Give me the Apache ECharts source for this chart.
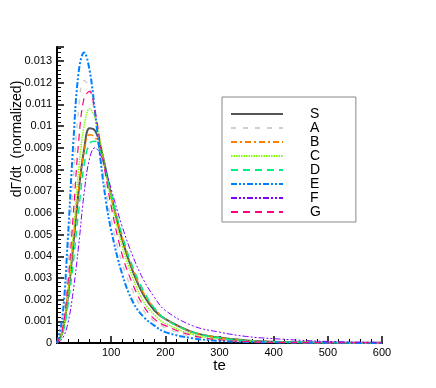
<!DOCTYPE html>
<html>
<head>
<meta charset="utf-8">
<script src="https://cdn.jsdelivr.net/npm/echarts@6/dist/echarts.min.js"></script>
<style>
  html, body { margin: 0; padding: 0; background: #fff; }
  #main { width: 436px; height: 388px; }
</style>
</head>
<body>
<div id="main"></div>
<script>
// te values shared by all curves
var te = [0, 10, 20, 30, 40, 50, 60, 70, 80, 90, 100, 120, 140, 160, 180, 200, 250, 300, 350, 400, 500, 600];

var seriesNames = ['S', 'A', 'B', 'C', 'D', 'E', 'F', 'G'];

var valS = [0, 0.0005, 0.0021, 0.0045, 0.0070, 0.0089, 0.0099, 0.0098, 0.0091, 0.0080, 0.0068, 0.0048, 0.0033, 0.0022, 0.0015, 0.0011, 0.0005, 0.00025, 0.00012, 0.00006, 0.00002, 0.00001];
var valA = [0, 0.0008, 0.0036, 0.0075, 0.0108, 0.0121, 0.0118, 0.0104, 0.0087, 0.0071, 0.0057, 0.0037, 0.0024, 0.0015, 0.0010, 0.0007, 0.0003, 0.00013, 0.00006, 0.00003, 0.00001, 0];
var valB = [0, 0.0006, 0.0023, 0.0047, 0.0071, 0.0088, 0.0096, 0.0095, 0.0089, 0.0079, 0.0068, 0.0049, 0.0034, 0.0023, 0.0016, 0.0011, 0.0005, 0.00025, 0.00012, 0.00006, 0.00002, 0.00001];
var valC = [0, 0.0005, 0.0022, 0.0050, 0.0080, 0.0100, 0.0108, 0.0104, 0.0093, 0.0079, 0.0066, 0.0045, 0.0030, 0.0019, 0.0013, 0.0009, 0.0004, 0.00018, 0.00008, 0.00004, 0.00001, 0];
var valD = [0, 0.0004, 0.0017, 0.0037, 0.0061, 0.0082, 0.0092, 0.0093, 0.0088, 0.0079, 0.0069, 0.0050, 0.0035, 0.0024, 0.0016, 0.0011, 0.0005, 0.00024, 0.00011, 0.00005, 0.00002, 0.00001];
var valE = [0, 0.0012, 0.0048, 0.0092, 0.0125, 0.0134, 0.0126, 0.0107, 0.0085, 0.0066, 0.0052, 0.0032, 0.0019, 0.0012, 0.0008, 0.0005, 0.00022, 0.0001, 0.00005, 0.00003, 0.00001, 0];
var valF = [0, 0.0002, 0.0009, 0.0024, 0.0045, 0.0069, 0.0085, 0.0090, 0.0087, 0.0080, 0.0071, 0.0054, 0.0040, 0.0029, 0.0021, 0.0015, 0.0008, 0.0005, 0.0003, 0.0002, 0.00007, 0.00003];
var valG = [0, 0.0006, 0.0027, 0.0059, 0.0093, 0.0113, 0.0116, 0.0107, 0.0092, 0.0077, 0.0063, 0.0041, 0.0027, 0.0017, 0.0011, 0.0008, 0.00035, 0.00015, 0.00007, 0.00003, 0.00001, 0];

var allVals = [valS, valA, valB, valC, valD, valE, valF, valG];

// line looks per curve
var styles = [
    { color: '#555555', width: 2, type: 'solid' },
    { color: '#d0d0d0', width: 1.5, type: [5, 7] },
    { color: '#ff8000', width: 1.5, type: [6, 3, 2, 3] },
    { color: '#80ff00', width: 1.5, type: [1.5, 1] },
    { color: '#00f080', width: 1.5, type: [7, 5] },
    { color: '#0080ff', width: 2, type: [6, 2, 2, 2, 2, 2] },
    { color: '#8000ff', width: 1, type: [6, 2, 2, 2, 2, 2] },
    { color: '#ff0080', width: 1.2, type: [7, 5] }
];

function pairs(vals) {
    var out = [];
    for (var i = 0; i < te.length; i++) {
        out.push([te[i], vals[i]]);
    }
    return out;
}

var series = [];
for (var k = 0; k < seriesNames.length; k++) {
    series.push({
        name: seriesNames[k],
        type: 'line',
        smooth: 0.4,
        symbol: 'none',
        data: pairs(allVals[k]),
        itemStyle: { color: styles[k].color },
        lineStyle: { color: styles[k].color, width: styles[k].width, type: styles[k].type }
    });
}

var chart = echarts.init(document.getElementById('main'));
var font = 'Liberation Sans, Arial, sans-serif';
chart.setOption({
    animation: false,
    backgroundColor: '#fff',
    grid: { left: 57, right: 54, top: 47, bottom: 45, containLabel: false, outerBoundsMode: 'none' },
    legend: {
        orient: 'vertical',
        left: 222,
        top: 97,
        itemWidth: 52,
        itemHeight: 14,
        itemGap: 0,
        padding: [10, 35, 3, 8],
        backgroundColor: '#fff',
        borderColor: '#888',
        borderWidth: 1,
        borderRadius: 0,
        data: seriesNames,
        itemStyle: { opacity: 0 },
        textStyle: { fontFamily: font, fontSize: 14, color: '#000', padding: [5, 0, 0, 22] }
    },
    xAxis: {
        type: 'value',
        min: 0,
        max: 600,
        interval: 100,
        name: 'te',
        nameLocation: 'middle',
        nameGap: 15,
        nameMoveOverlap: false,
        nameTextStyle: { fontFamily: font, fontSize: 15, color: '#000' },
        axisLine: { lineStyle: { color: '#000', width: 2 } },
        axisTick: { inside: true, length: 7, lineStyle: { color: '#000', width: 1.5 } },
        minorTick: { show: true, splitNumber: 5, length: 4, lineStyle: { color: '#000', width: 1 } },
        axisLabel: { showMinLabel: false, margin: 4, fontFamily: font, fontSize: 11, color: '#000' },
        splitLine: { show: false }
    },
    yAxis: {
        type: 'value',
        min: 0,
        max: 0.01365,
        interval: 0.001,
        name: 'd\u0393/dt  (normalized)',
        nameLocation: 'middle',
        nameGap: 33,
        nameMoveOverlap: false,
        nameTextStyle: { fontFamily: font, fontSize: 14, color: '#000', padding: [0, 0, 0, 112] },
        axisLine: { show: true, lineStyle: { color: '#000', width: 2 } },
        axisTick: { inside: true, length: 7, lineStyle: { color: '#000', width: 1.5 } },
        minorTick: { show: true, splitNumber: 5, length: 4, lineStyle: { color: '#000', width: 1 } },
        axisLabel: { showMaxLabel: false, margin: 5, fontFamily: font, fontSize: 11, color: '#000' },
        splitLine: { show: false }
    },
    series: series
});
</script>
</body>
</html>
